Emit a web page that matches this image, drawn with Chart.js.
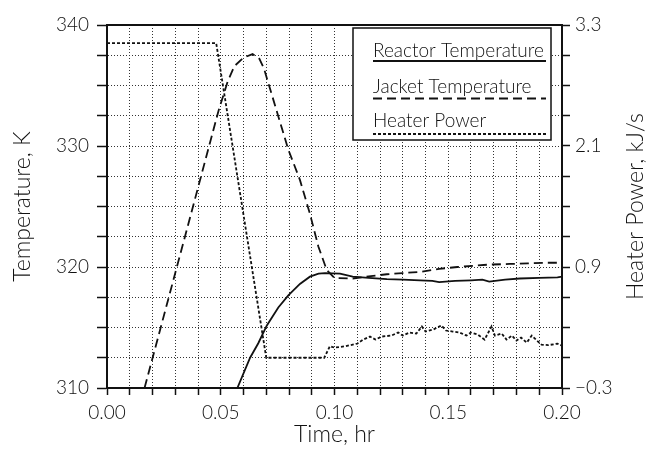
<!DOCTYPE html>
<html>
<head>
<meta charset="utf-8">
<script src="https://cdn.jsdelivr.net/npm/chart.js@4/dist/chart.umd.min.js"></script>
<style>
  body { margin: 0; background: #fff; }
  #wrap { width: 647px; height: 449px; position: relative; }
</style>
</head>
<body>
<div id="wrap"><canvas id="myChart"></canvas></div>
<script>
// Reactor run: temperatures (K) and heater power (kJ/s) against time (hr)
const reactorTime = [0.0573, 0.0629, 0.0665, 0.0702, 0.0753, 0.0797, 0.0848, 0.0892, 0.093, 0.0958, 0.1024, 0.108, 0.115, 0.123, 0.13, 0.1376, 0.143, 0.146, 0.153, 0.16, 0.165, 0.168, 0.175, 0.1815, 0.19, 0.198, 0.2];
const reactorTemp = [310, 312.5, 313.7, 315.15, 316.65, 317.65, 318.6, 319.2, 319.45, 319.5, 319.45, 319.2, 319.1, 319.0, 318.95, 318.9, 318.85, 318.75, 318.85, 318.9, 318.95, 318.8, 318.95, 319.05, 319.1, 319.15, 319.2];

const jacketTime = [0.0165, 0.03, 0.049, 0.053, 0.056, 0.06, 0.064, 0.067, 0.069, 0.0797, 0.0848, 0.0892, 0.0929, 0.0966, 0.1, 0.108, 0.116, 0.123, 0.13, 0.138, 0.146, 0.154, 0.161, 0.168, 0.177, 0.185, 0.192, 0.2];
const jacketTemp = [310, 319.5, 332.9, 335.3, 336.6, 337.3, 337.6, 337.2, 336.4, 329.7, 327.2, 324.4, 321.7, 319.75, 319.1, 319.05, 319.25, 319.4, 319.5, 319.6, 319.85, 320.0, 320.1, 320.2, 320.25, 320.3, 320.35, 320.35];

const heaterTime = [0, 0.048, 0.07, 0.0955, 0.098, 0.1, 0.105, 0.11, 0.1126, 0.1156, 0.118, 0.1207, 0.125, 0.128, 0.13, 0.133, 0.136, 0.1384, 0.14, 0.1435, 0.147, 0.149, 0.152, 0.155, 0.158, 0.16, 0.163, 0.166, 0.169, 0.1705, 0.1735, 0.1756, 0.178, 0.18, 0.182, 0.1845, 0.1867, 0.189, 0.191, 0.194, 0.198, 0.2];
const heaterPower = [3.12, 3.12, 0.0, 0.0, 0.115, 0.1, 0.115, 0.14, 0.18, 0.21, 0.18, 0.21, 0.22, 0.25, 0.22, 0.25, 0.24, 0.31, 0.26, 0.28, 0.32, 0.27, 0.26, 0.25, 0.22, 0.25, 0.23, 0.18, 0.31, 0.22, 0.24, 0.18, 0.22, 0.17, 0.2, 0.15, 0.22, 0.17, 0.13, 0.125, 0.14, 0.12];

const timeLabels = [0, 0.05, 0.1, 0.15, 0.2];
const tempLabels = [310, 320, 330, 340];
const powerLabels = [-0.3, 0.9, 2.1, 3.3];

const seriesNames = ["Reactor Temperature", "Jacket Temperature", "Heater Power"];

const fontName = "Lato";
const fontWeight = 300;
const ink = "#111";

function pts(xs, ys) {
  return xs.map((x, i) => ({ x: x, y: ys[i] }));
}

function isLabel(list, v) {
  return list.some((l) => Math.abs(l - v) < 1e-6);
}

// boxed legend, the line sample sits under each label
const underlineLegend = {
  id: "underlineLegend",
  afterDatasetsDraw(chart) {
    const ctx = chart.ctx;
    const area = chart.chartArea;
    const left = area.right - 209;
    const top = area.top + 3;
    ctx.save();
    ctx.fillStyle = "#fff";
    ctx.fillRect(left, top, 198, 112);
    ctx.strokeStyle = ink;
    ctx.lineWidth = 1.5;
    ctx.strokeRect(left, top, 198, 112);
    ctx.font = fontWeight + " 19px " + fontName;
    ctx.fillStyle = ink;
    ctx.textBaseline = "alphabetic";
    const rows = [29, 65, 99];
    chart.data.datasets.forEach((ds, i) => {
      const y = top + rows[i];
      ctx.fillText(ds.label, left + 20, y);
      ctx.beginPath();
      ctx.setLineDash(ds.borderDash || []);
      ctx.lineWidth = ds.borderWidth;
      ctx.moveTo(left + 20, y + 4 + i * 1.5);
      ctx.lineTo(left + 193, y + 4 + i * 1.5);
      ctx.stroke();
    });
    ctx.restore();
  },
};

// closes the frame on top and writes the right-hand title bottom-to-top
const frameAndTitle = {
  id: "frameAndTitle",
  afterDraw(chart) {
    const ctx = chart.ctx;
    const area = chart.chartArea;
    ctx.save();
    ctx.strokeStyle = ink;
    ctx.lineWidth = 2;
    ctx.beginPath();
    ctx.moveTo(area.left, area.top);
    ctx.lineTo(area.right, area.top);
    ctx.stroke();
    ctx.translate(636, (area.top + area.bottom) / 2);
    ctx.rotate(-Math.PI / 2);
    ctx.font = fontWeight + " 23px " + fontName;
    ctx.fillStyle = ink;
    ctx.textAlign = "center";
    ctx.textBaseline = "middle";
    ctx.fillText("Heater Power, kJ/s", 0, 0);
    ctx.restore();
  },
};

const dotted = {
  color: "#333",
  lineWidth: 1,
};

const tickFont = { family: fontName, size: 19, weight: fontWeight };
const titleFont = { family: fontName, size: 23, weight: fontWeight };

const config = {
  type: "line",
  data: {
    datasets: [
      {
        label: seriesNames[0],
        data: pts(reactorTime, reactorTemp),
        yAxisID: "y",
        borderColor: ink,
        borderWidth: 1.8,
      },
      {
        label: seriesNames[1],
        data: pts(jacketTime, jacketTemp),
        yAxisID: "y",
        borderColor: ink,
        borderWidth: 1.8,
        borderDash: [9, 5],
      },
      {
        label: seriesNames[2],
        data: pts(heaterTime, heaterPower),
        yAxisID: "y1",
        borderColor: ink,
        borderWidth: 1.8,
        borderDash: [3, 2],
      },
    ],
  },
  options: {
    responsive: true,
    maintainAspectRatio: false,
    animation: false,
    events: [],
    layout: { padding: { top: 25, left: 0, right: 0, bottom: 0 } },
    elements: { point: { radius: 0 }, line: { tension: 0 } },
    plugins: { legend: { display: false }, tooltip: { enabled: false } },
    scales: {
      x: {
        type: "linear",
        min: 0,
        max: 0.2,
        afterFit: (scale) => { scale.height = 61; },
        grid: { ...dotted, tickLength: 7, tickColor: ink, tickWidth: 1.5, tickBorderDash: [] },
        border: { display: true, color: ink, width: 2, dash: [1, 2] },
        ticks: {
          stepSize: 0.01,
          maxTicksLimit: 100,
          autoSkip: false,
          maxRotation: 0,
          padding: 6,
          color: ink,
          font: tickFont,
          callback: (v) => (isLabel(timeLabels, v) ? v.toFixed(2) : ""),
        },
        title: {
          display: true,
          text: "Time, hr",
          color: ink,
          font: titleFont,
          padding: { top: 0, bottom: 1 },
        },
      },
      y: {
        position: "left",
        min: 310,
        max: 340,
        afterFit: (scale) => { scale.width = 107; },
        grid: { ...dotted, tickLength: 10, tickColor: ink, tickWidth: 1.5, tickBorderDash: [] },
        border: { display: true, color: ink, width: 2, dash: [1, 2] },
        ticks: {
          stepSize: 2.5,
          maxTicksLimit: 100,
          autoSkip: false,
          padding: 8,
          color: ink,
          font: tickFont,
          callback: (v) => (isLabel(tempLabels, v) ? String(v) : ""),
        },
        title: {
          display: true,
          text: "Temperature, K",
          color: ink,
          font: titleFont,
          padding: { top: 9, bottom: 0 },
        },
      },
      y1: {
        position: "right",
        min: -0.3,
        max: 3.3,
        afterFit: (scale) => { scale.width = 85; },
        grid: { drawOnChartArea: false, tickLength: 8, tickColor: ink, tickWidth: 1.5 },
        border: { display: true, color: ink, width: 2 },
        ticks: {
          stepSize: 0.3,
          maxTicksLimit: 100,
          autoSkip: false,
          padding: 5,
          color: ink,
          font: tickFont,
          callback: (v) => (isLabel(powerLabels, v) ? v.toFixed(1).replace("-", "\u2212") : ""),
        },
      },
    },
  },
  plugins: [underlineLegend, frameAndTitle],
};

const myChart = new Chart(document.querySelector("#myChart"), config);
</script>
</body>
</html>
